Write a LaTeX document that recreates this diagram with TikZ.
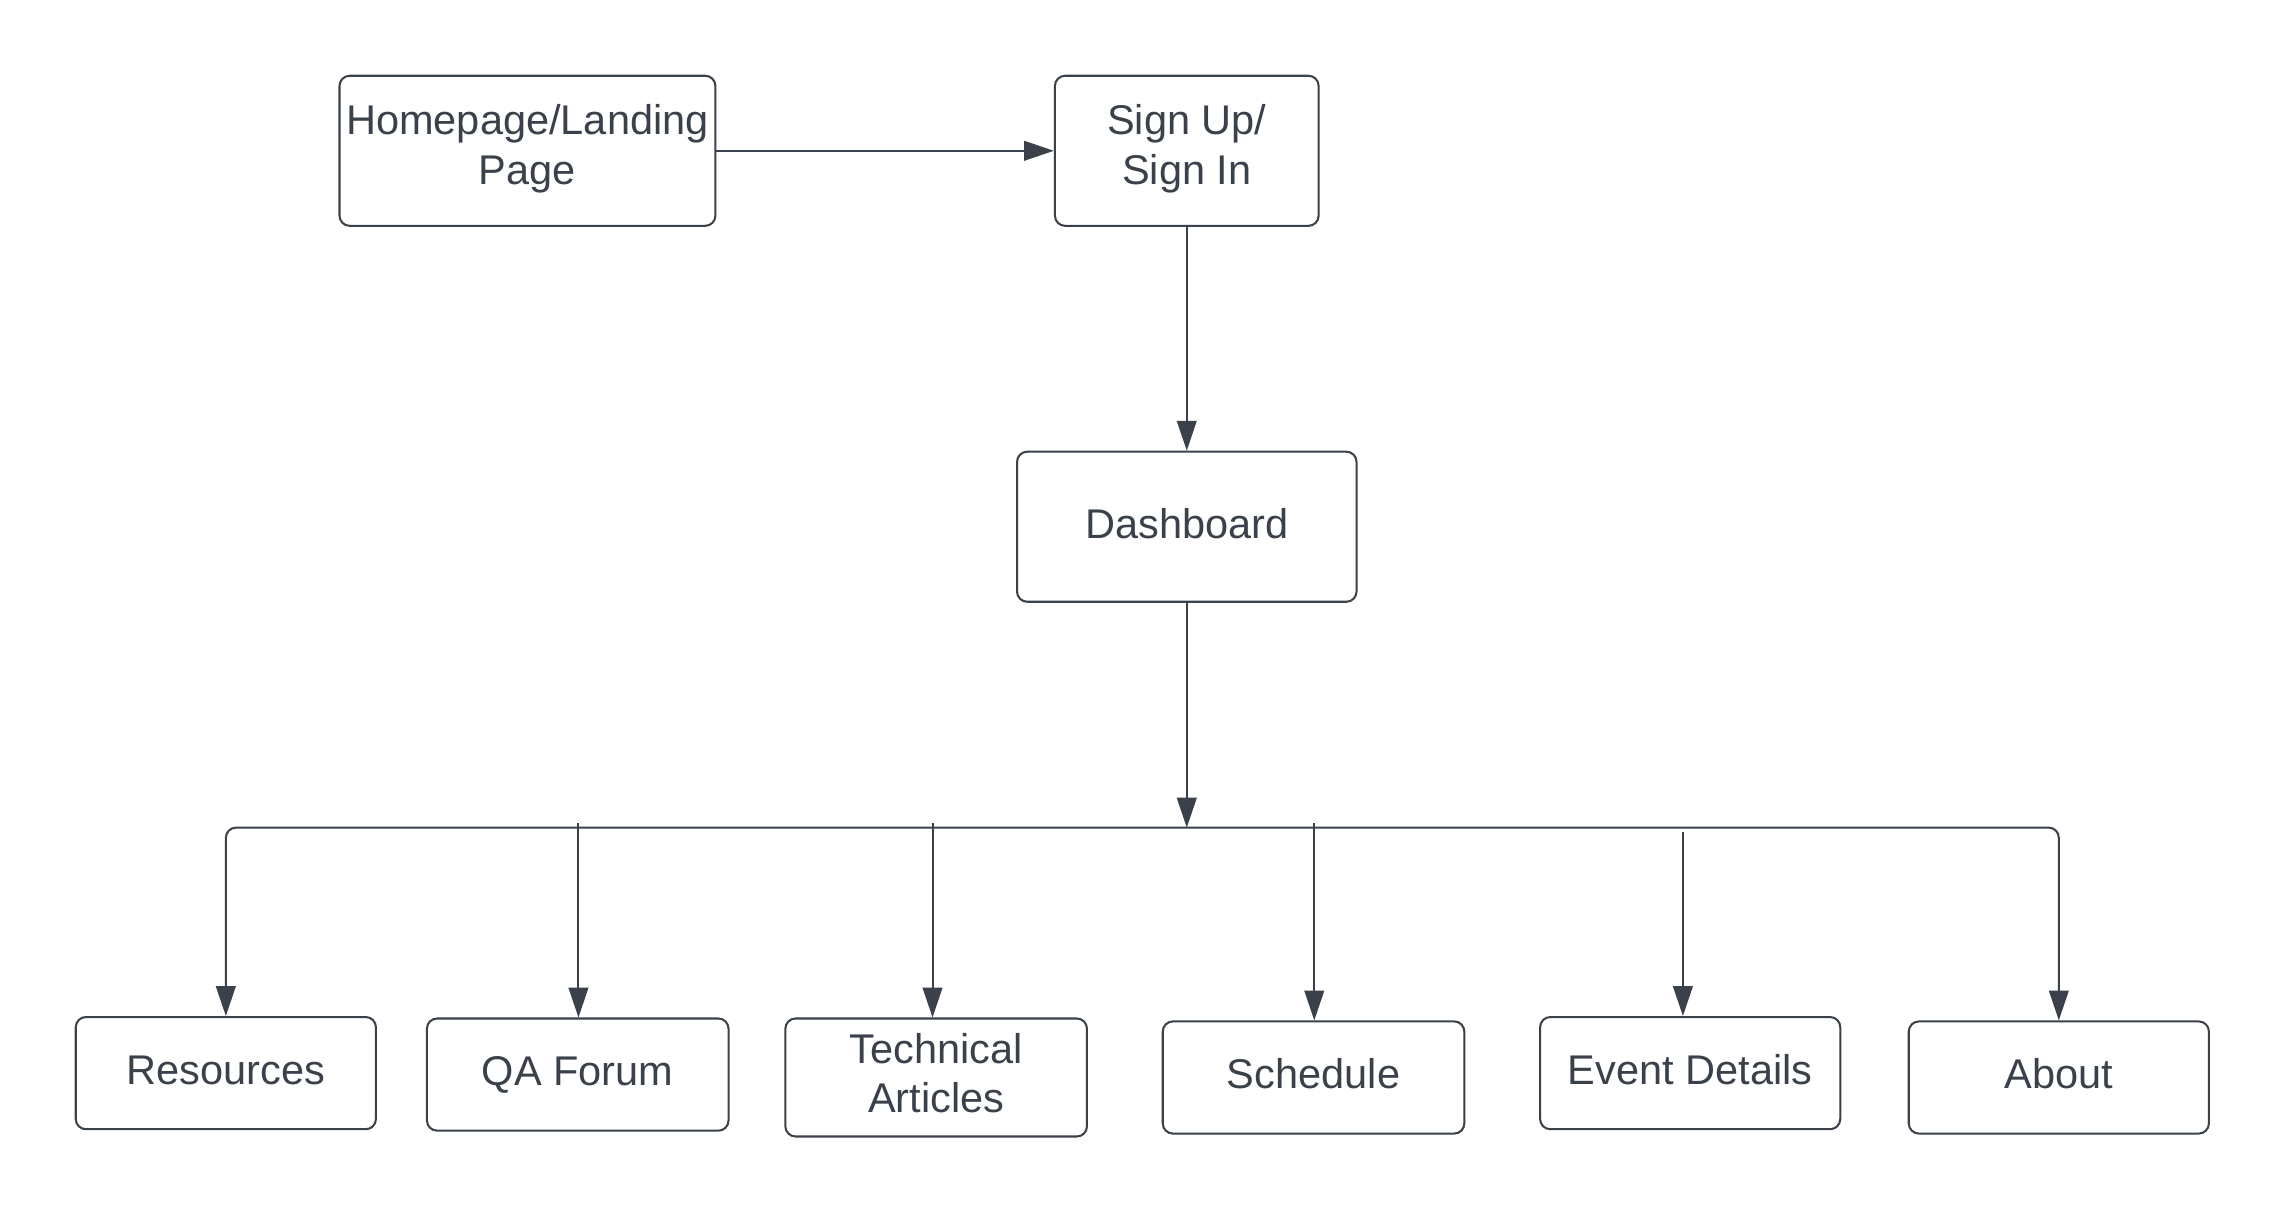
\documentclass[tikz,border=0pt]{standalone}
\usepackage{fontspec}
\setmainfont{Liberation Sans}
\usetikzlibrary{arrows.meta}
\definecolor{ink}{RGB}{58,65,74}
\newcommand{\lowstrut}[1]{\rule[-#1]{0pt}{#1}}
\begin{document}
\begin{tikzpicture}[x=1pt,y=-1pt,
  box/.style={draw=ink, line width=1.4pt, rounded corners=7pt, text=ink,
    font=\fontsize{28.5}{34}\selectfont, inner sep=0pt, align=center},
  onebox/.style={box, text height=20.5pt, text depth=5pt},
  arr/.style={draw=ink, line width=1.4pt, -{Triangle[length=20.5pt,width=13.5pt]}},
  ln/.style={draw=ink, line width=1.4pt}]
\useasboundingbox (0,0) rectangle (1560,829);
% top row
\node[box, minimum width=258pt, minimum height=103pt] (home) at (362,103.5) {Homepage/Landing\\Page\lowstrut{9pt}};
\node[box, minimum width=181pt, minimum height=103pt] (sign) at (814.5,103.5) {Sign Up/\\Sign In\lowstrut{9pt}};
\node[onebox, minimum width=233pt, minimum height=103pt] (dash) at (814.5,361.5) {Dashboard};
% bottom row
\node[onebox, minimum width=206pt, minimum height=77pt] (res) at (155,736.5) {Resources};
\node[onebox, minimum width=207pt, minimum height=77pt] (qa) at (396.5,737.5) {QA Forum};
\node[box, minimum width=207pt, minimum height=81pt] (tech) at (642.5,739.5) {Technical\\Articles\lowstrut{6pt}};
\node[onebox, minimum width=207pt, minimum height=77pt] (sched) at (901.5,739.5) {Schedule};
\node[onebox, minimum width=206pt, minimum height=77pt] (event) at (1160,736.5) {Event Details};
\node[onebox, minimum width=206pt, minimum height=77pt] (about) at (1413,739.5) {About};
% connectors
\draw[arr] (home.east) -- (sign.west);
\draw[arr] (sign.south) -- (dash.north);
\coordinate (bus) at (814.5,568);
\draw[arr] (dash.south) -- (bus);
\draw[arr, rounded corners=7pt] (bus) -| (res.north);
\draw[arr, rounded corners=7pt] (bus) -| (about.north);
\coordinate (qtop) at (397,565);
\coordinate (ttop) at (640,565);
\coordinate (stop) at (902,565);
\coordinate (etop) at (1155,571);
\draw[arr] (qtop) -- (qtop |- qa.north);
\draw[arr] (ttop) -- (ttop |- tech.north);
\draw[arr] (stop) -- (stop |- sched.north);
\draw[arr] (etop) -- (etop |- event.north);
\end{tikzpicture}
\end{document}
